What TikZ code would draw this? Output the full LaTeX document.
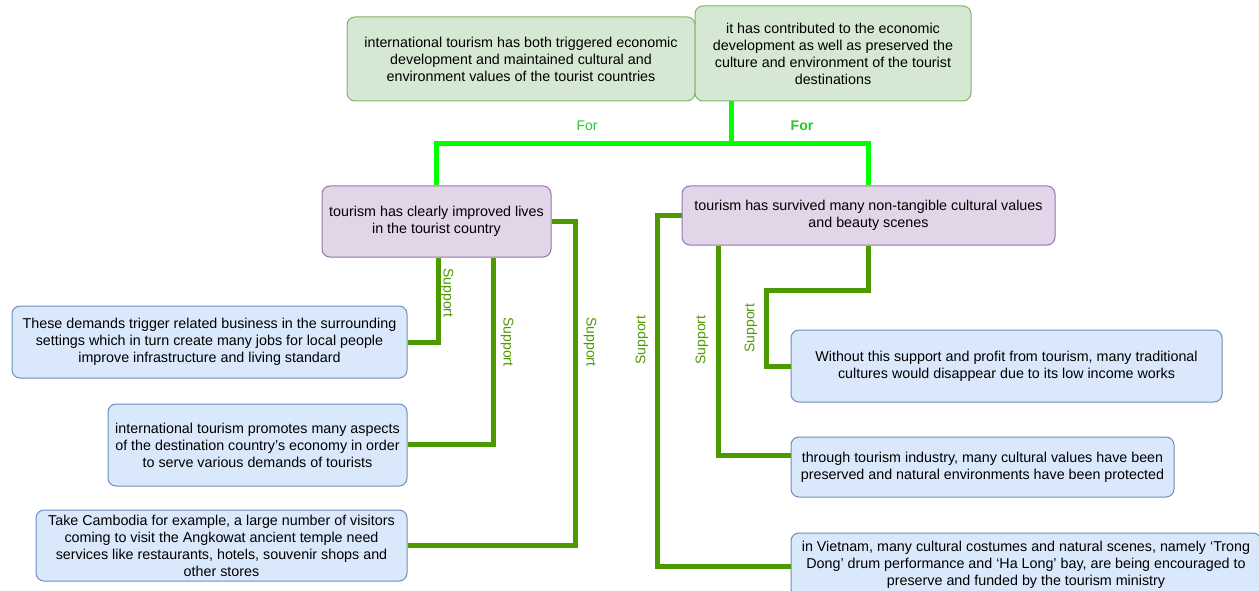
\documentclass[tikz,border=0pt]{standalone}
\usepackage{fontspec}
\setmainfont{Liberation Sans}
\definecolor{gfill}{HTML}{D5E8D4}
\definecolor{gline}{HTML}{82B366}
\definecolor{pfill}{HTML}{E1D5E7}
\definecolor{pline}{HTML}{9673A6}
\definecolor{bfill}{HTML}{DAE8FC}
\definecolor{bline}{HTML}{6C8EBF}
\definecolor{supc}{HTML}{4D9900}
\definecolor{forc}{HTML}{00FF00}
\definecolor{fortext}{HTML}{22CC22}
\tikzset{
  box/.style={rounded corners=8pt, line width=1pt, align=center, inner sep=0pt,
    font=\fontsize{14.3}{17}\selectfont},
  gbox/.style={box, fill=gfill, draw=gline},
  pbox/.style={box, fill=pfill, draw=pline},
  bbox/.style={box, fill=bfill, draw=bline},
  supline/.style={draw=supc, line width=5pt},
  forline/.style={draw=forc, line width=5pt},
  suplabel/.style={text=supc, font=\fontsize{14}{16}\selectfont, inner sep=0pt},
  forlabel/.style={text=fortext, font=\fontsize{14}{16}\selectfont, inner sep=0pt},
}
\begin{document}
\begin{tikzpicture}[x=1pt,y=1pt]
\useasboundingbox (0,0) rectangle (1259,-591);
\begin{scope}
\clip (0,0) rectangle (1259,-591);
% nodes
\node[gbox, minimum width=348pt, minimum height=84pt] (tl) at (521,-59)
  {international tourism has both triggered economic\\development and maintained cultural and\\environment values of the tourist countries};
\node[gbox, minimum width=276pt, minimum height=95pt] (tr) at (833,-53.5)
  {it has contributed to the economic\\development as well as preserved the\\culture and environment of the tourist\\destinations};
\node[pbox, minimum width=229pt, minimum height=71pt] (pL) at (436.5,-221.5)
  {\raisebox{-3pt}{\begin{tabular}{@{}c@{}}tourism has clearly improved lives\\[0pt]in the tourist country\end{tabular}}};
\node[pbox, minimum width=373pt, minimum height=59pt] (pR) at (868.5,-215.5)
  {tourism has survived many non-tangible cultural values\\and beauty scenes};
\node[bbox, minimum width=395pt, minimum height=72pt] (b1) at (209.5,-342)
  {These demands trigger related business in the surrounding\\settings which in turn create many jobs for local people\\improve infrastructure and living standard};
\node[bbox, minimum width=299pt, minimum height=82pt] (b2) at (257.5,-445)
  {international tourism promotes many aspects\\of the destination country’s economy in order\\to serve various demands of tourists};
\node[bbox, minimum width=371pt, minimum height=71pt] (b3) at (221.5,-545.5)
  {Take Cambodia for example, a large number of visitors\\coming to visit the Angkowat ancient temple need\\services like restaurants, hotels, souvenir shops and\\other stores};
\node[bbox, minimum width=431pt, minimum height=72pt] (r1) at (1006.5,-366)
  {Without this support and profit from tourism, many traditional\\cultures would disappear due to its low income works};
\node[bbox, minimum width=383pt, minimum height=60pt] (r2) at (982.5,-467)
  {through tourism industry, many cultural values have been\\preserved and natural environments have been protected};
\node[bbox, minimum width=470pt, minimum height=64pt] (r3) at (1026,-565)
  {in Vietnam, many cultural costumes and natural scenes, namely ‘Trong\\Dong’ drum performance and ‘Ha Long’ bay, are being encouraged to\\preserve and funded by the tourism ministry};
% For connectors
\draw[forline] ([xshift=-102pt]tr.south) -- ++(0,-42) coordinate (j);
\draw[forline] (pL.north) |- (j) -| (pR.north);
\node[forlabel] (f1) at (587,-126) {For};
\node[forlabel, font=\fontsize{14}{16}\selectfont\bfseries] (f2) at (802,-126) {For};
% Support connectors
\draw[supline] ([xshift=1.5pt]pL.south) |- (b1.east);
\draw[supline] ([xshift=56.5pt]pL.south) |- ([yshift=1pt]b2.east);
\draw[supline] (pL.east) -- ++(24,0) |- (b3.east);
\draw[supline] (pR.west) -- ++(-24,0) |- ([yshift=-1pt]r3.west);
\draw[supline] ([xshift=-150.5pt]pR.south) |- ([yshift=12pt]r2.west);
\draw[supline] (pR.south) |- ++(-102,-45) |- (r1.west);
\node[suplabel, rotate=-90] (s1) at (447,-293) {Support};
\node[suplabel, rotate=-90] (s2) at (507,-342) {Support};
\node[suplabel, rotate=-90] (s3) at (590,-342) {Support};
\node[suplabel, rotate=90] (s4) at (642,-340) {Support};
\node[suplabel, rotate=90] (s5) at (702,-340) {Support};
\node[suplabel, rotate=90] (s6) at (751,-328) {Support};
\end{scope}
\end{tikzpicture}
\end{document}
